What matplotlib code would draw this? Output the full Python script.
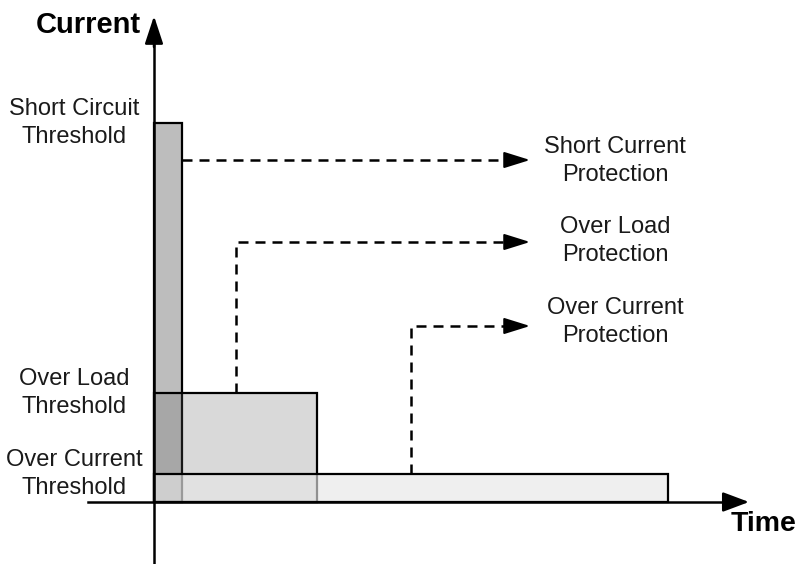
import matplotlib.pyplot as plt
from matplotlib.patches import Rectangle

plt.rcParams['font.family'] = ['Liberation Sans', 'DejaVu Sans']

# 数据（原点在坐标轴交点，单位≈像素）
levels = ['Short Circuit', 'Over Load', 'Over Current']
threshold = [379, 109, 28]          # 电流阈值
duration = [28, 163, 514]           # 持续时间
trip_time = [28, 82, 257]           # 保护动作时刻
arrow_level = [342, 260, 176]       # 虚线箭头高度
protect_labels = ['Short Current\nProtection', 'Over Load\nProtection', 'Over Current\nProtection']
protect_y = [341, 261, 180]
arrow_end = 376
label_x = 461

faces = [(0.74, 0.74, 0.74, 1.0), (0.39, 0.39, 0.39, 0.24), (0.90, 0.90, 0.90, 0.63)]

fig = plt.figure(figsize=(7.98, 5.64), dpi=100)
ax = fig.add_axes([0, 0, 1, 1])
ax.set_xlim(-154, 644)
ax.set_ylim(-62, 502)
ax.axis('off')

# 1. 三个阈值矩形
for i in range(3):
    ax.add_patch(Rectangle((0, 0), duration[i], threshold[i],
                           facecolor=faces[i], edgecolor='black', lw=1.6, zorder=2 + i))

# 2. 坐标轴
ax.plot([-66, 578], [0, 0], color='black', lw=1.8, zorder=6)
ax.annotate('', xy=(595, 0), xytext=(572, 0),
            arrowprops=dict(arrowstyle='-|>,head_length=0.8,head_width=0.3',
                            mutation_scale=20, color='black', lw=1.8,
                            shrinkA=0, shrinkB=0), zorder=6)
ax.plot([0, 0], [-62, 460], color='black', lw=1.8, zorder=6)
ax.annotate('', xy=(0, 486), xytext=(0, 455),
            arrowprops=dict(arrowstyle='-|>,head_length=0.85,head_width=0.28',
                            mutation_scale=20, color='black', lw=1.8,
                            shrinkA=0, shrinkB=0), zorder=6)
ax.text(-13, 477, 'Current', fontsize=21, fontweight='bold', ha='right', va='center')
ax.text(610, -22, 'Time', fontsize=20.5, fontweight='bold', ha='center', va='center')

# 3. 阈值标签
for i in range(3):
    name = levels[i] + '\nThreshold'
    ax.text(-80, threshold[i], name, fontsize=17, ha='center', va='center',
            linespacing=1.3, color='#1a1a1a')

# 4. 虚线箭头 + 保护标签
for i in range(3):
    xs = [trip_time[i], trip_time[i], arrow_end - 20]
    ys = [threshold[i], arrow_level[i], arrow_level[i]]
    if i == 0:
        xs, ys = xs[1:], ys[1:]
    ax.plot(xs, ys, color='black', lw=1.8, dashes=(4, 2.8), zorder=6)
    ax.annotate('', xy=(arrow_end, arrow_level[i]), xytext=(arrow_end - 22, arrow_level[i]),
                arrowprops=dict(arrowstyle='-|>,head_length=0.8,head_width=0.25',
                                mutation_scale=20, color='black', lw=1.5,
                                shrinkA=0, shrinkB=0), zorder=6)
    ax.text(label_x, protect_y[i], protect_labels[i], fontsize=17, ha='center',
            va='center', linespacing=1.3, color='#1a1a1a')

plt.savefig('out.png', dpi=100)
